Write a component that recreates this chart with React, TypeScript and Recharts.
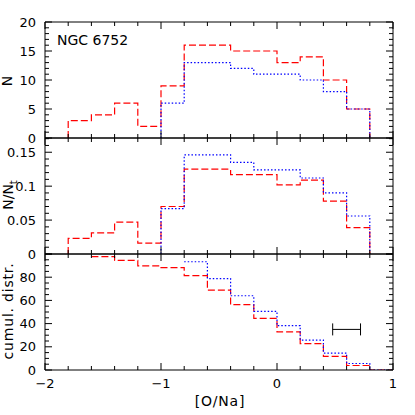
import { ComposedChart, Line, XAxis, YAxis, Scatter, ErrorBar } from "recharts";

// lower bin edges, width 0.2; last bin closes at 1.0
const binLow = [-1.8, -1.6, -1.4, -1.2, -1.0, -0.8, -0.6, -0.4, -0.2, 0, 0.2, 0.4, 0.6, 0.8];
const binTop = 1.0;

const redN = [3, 4, 6, 2, 9, 16, 16, 15, 15, 13, 14, 10, 5, 0];
const blueN = [null, null, null, null, 6, 13, 13, 12, 11, 11, 10, 8, 5, 0];

const redFrac = [0.023, 0.031, 0.047, 0.016, 0.07, 0.125, 0.125, 0.117, 0.117, 0.102, 0.109, 0.078, 0.039, 0];
const blueFrac = [null, null, null, null, 0.067, 0.146, 0.146, 0.135, 0.124, 0.124, 0.112, 0.09, 0.056, 0];

const redCum = [null, 97.7, 94.5, 89.8, 88.3, 81.3, 68.8, 56.3, 44.5, 32.8, 22.7, 11.7, 3.9, 0];
const blueCum = [null, null, null, null, null, 93.3, 78.7, 64.0, 50.6, 38.2, 25.8, 14.6, 5.6, 0];

const errBar = [{ x: 0.6, y: 35, dx: 0.12 }];

const xTicks = [-2, -1.8, -1.6, -1.4, -1.2, -1, -0.8, -0.6, -0.4, -0.2, 0, 0.2, 0.4, 0.6, 0.8, 1];
const xMajor = [-2, -1, 0, 1];
const xLabels = ["−2", "−1", "0", "1"];

const nTicks = [0, 1, 2, 3, 4, 5, 6, 7, 8, 9, 10, 11, 12, 13, 14, 15, 16, 17, 18, 19, 20];
const nMajor = [0, 5, 10, 15, 20];
const nLabels = ["0", "5", "10", "15", "20"];

const fTicks = [0, 0.01, 0.02, 0.03, 0.04, 0.05, 0.06, 0.07, 0.08, 0.09, 0.1, 0.11, 0.12, 0.13, 0.14, 0.15, 0.16, 0.17];
const fMajor = [0, 0.05, 0.1, 0.15];
const fLabels = ["0", "0.05", "0.1", "0.15"];

const cTicks = [0, 5, 10, 15, 20, 25, 30, 35, 40, 45, 50, 55, 60, 65, 70, 75, 80, 85, 90, 95, 100];
const cMajor = [0, 20, 40, 60, 80, 100];
const cLabels = ["0", "20", "40", "60", "80", ""];

const FONT = "DejaVu Sans";
const W = 415;
const H = 415;
const RED = "#ff0000";
const BLUE = "#0000ff";

function histPoints(vals: (number | null)[]) {
  const pts: { x: number; y: number }[] = [];
  vals.forEach((v, i) => {
    if (v == null) return;
    if (!pts.length) pts.push({ x: binLow[i], y: 0 });
    pts.push({ x: binLow[i], y: v });
  });
  return pts;
}

function cumPoints(vals: (number | null)[]) {
  const pts: { x: number; y: number }[] = [];
  vals.forEach((v, i) => {
    if (v == null) return;
    pts.push({ x: binLow[i], y: v });
  });
  pts.push({ x: binTop, y: pts[pts.length - 1].y });
  return pts;
}

type Side = "left" | "right" | "top" | "bottom";

// inward tick marks, labels only on majors
function makeTick(side: Side, majors: number[], labels: string[] | null) {
  return (props: any) => {
    const { x, y, payload } = props;
    const v = payload.value;
    const mi = majors.findIndex((m) => Math.abs(m - v) < 1e-6);
    const major = mi >= 0;
    const vert = side === "left" || side === "right";
    const len = major ? 7 : 4;
    let line;
    if (side === "left") line = <line x1={x} y1={y} x2={x + len} y2={y} />;
    else if (side === "right") line = <line x1={x} y1={y} x2={x - len} y2={y} />;
    else if (side === "bottom") line = <line x1={x} y1={y} x2={x} y2={y - len} />;
    else line = <line x1={x} y1={y} x2={x} y2={y + len} />;
    const label = labels && major ? labels[mi] : "";
    return (
      <g>
        <g stroke="#000" strokeWidth={1}>{line}</g>
        {label !== "" && (
          <text
            x={vert ? x - 9 : x}
            y={vert ? y : y + 13}
            textAnchor={vert ? "end" : "middle"}
            dominantBaseline="central"
            fontFamily={FONT}
            fontSize={13}
            fill="#000"
          >
            {label}
          </text>
        )}
      </g>
    );
  };
}

const axisLine = { stroke: "#000", strokeWidth: 1 };

// axes need a size of at least 1px or recharts skips drawing them
function Frame({
  yDomain,
  yTicks,
  yMajor,
  yLabels,
  showX,
}: {
  yDomain: [number, number];
  yTicks: number[];
  yMajor: number[];
  yLabels: string[];
  showX: boolean;
}) {
  return [
    <XAxis
      key="xb"
      type="number"
      dataKey="x"
      domain={[-2, 1]}
      allowDataOverflow
      ticks={xTicks}
      interval={0}
      height={1}
      tickSize={0}
      tickMargin={0}
      tickLine={false}
      axisLine={axisLine}
      tick={makeTick("bottom", xMajor, showX ? xLabels : null)}
    />,
    <XAxis
      key="xt"
      xAxisId="top"
      orientation="top"
      type="number"
      dataKey="x"
      domain={[-2, 1]}
      allowDataOverflow
      ticks={xTicks}
      interval={0}
      height={1}
      tickSize={0}
      tickMargin={0}
      tickLine={false}
      axisLine={axisLine}
      tick={makeTick("top", xMajor, null)}
    />,
    <YAxis
      key="yl"
      type="number"
      domain={yDomain}
      allowDataOverflow
      ticks={yTicks}
      interval={0}
      width={1}
      tickSize={0}
      tickMargin={0}
      tickLine={false}
      axisLine={axisLine}
      tick={makeTick("left", yMajor, yLabels)}
    />,
    <YAxis
      key="yr"
      yAxisId="right"
      orientation="right"
      type="number"
      domain={yDomain}
      allowDataOverflow
      ticks={yTicks}
      interval={0}
      width={1}
      tickSize={0}
      tickMargin={0}
      tickLine={false}
      axisLine={axisLine}
      tick={makeTick("right", yMajor, null)}
    />,
  ];
}

function Series({ red, blue }: { red: { x: number; y: number }[]; blue: { x: number; y: number }[] }) {
  return [
    <Line
      key="red"
      data={red}
      dataKey="y"
      type="stepAfter"
      stroke={RED}
      strokeWidth={1.2}
      strokeDasharray="7 3"
      dot={false}
      activeDot={false}
      isAnimationActive={false}
    />,
    <Line
      key="blue"
      data={blue}
      dataKey="y"
      type="stepAfter"
      stroke={BLUE}
      strokeWidth={1.2}
      strokeDasharray="1.5 2"
      dot={false}
      activeDot={false}
      isAnimationActive={false}
    />,
  ];
}

const layer: React.CSSProperties = { position: "absolute", left: 0, top: 0 };

// plot box: x 45..393, panels 22..138, 138..254, 254..370
function margins(top: number, bottom: number) {
  return { top: top - 1, right: 21, bottom: H - bottom - 1, left: 44 };
}

export default function App() {
  const textProps = { fontFamily: FONT, fill: "#000" };
  return (
    <div style={{ position: "absolute", left: 0, top: 0, width: W, height: H, background: "#fff" }}>
      <div style={layer}>
        <ComposedChart width={W} height={H} margin={margins(22, 138)}>
          {Frame({ yDomain: [0, 20], yTicks: nTicks, yMajor: nMajor, yLabels: nLabels, showX: false })}
          {Series({ red: histPoints(redN), blue: histPoints(blueN) })}
          <text x={57} y={45} fontSize={14} {...textProps}>
            NGC 6752
          </text>
          <text transform="translate(12,81) rotate(-90)" textAnchor="middle" fontSize={14} {...textProps}>
            N
          </text>
        </ComposedChart>
      </div>
      <div style={layer}>
        <ComposedChart width={W} height={H} margin={margins(138, 254)}>
          {Frame({ yDomain: [0, 0.171], yTicks: fTicks, yMajor: fMajor, yLabels: fLabels, showX: false })}
          {Series({ red: histPoints(redFrac), blue: histPoints(blueFrac) })}
          <text transform="translate(13,195) rotate(-90)" textAnchor="middle" fontSize={14} {...textProps}>
            N/N
            <tspan fontSize={10} dy={4}>
              t
            </tspan>
          </text>
        </ComposedChart>
      </div>
      <div style={layer}>
        <ComposedChart width={W} height={H} margin={margins(254, 370)}>
          {Frame({ yDomain: [0, 100], yTicks: cTicks, yMajor: cMajor, yLabels: cLabels, showX: true })}
          {Series({ red: cumPoints(redCum), blue: cumPoints(blueCum) })}
          <Scatter data={errBar} dataKey="y" shape={() => <g />} isAnimationActive={false}>
            <ErrorBar dataKey="dx" direction="x" width={6} stroke="#000" strokeWidth={1} />
          </Scatter>
          <text
            transform="translate(13,311) rotate(-90)"
            textAnchor="middle"
            fontSize={14}
            letterSpacing={0.8}
            {...textProps}
          >
            cumul. distr.
          </text>
          <text x={220} y={406} textAnchor="middle" fontSize={14} letterSpacing={0.8} {...textProps}>
            [O/Na]
          </text>
        </ComposedChart>
      </div>
    </div>
  );
}
